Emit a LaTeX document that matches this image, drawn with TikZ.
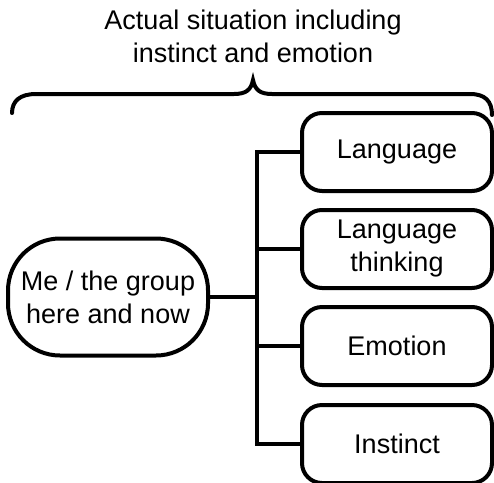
\documentclass[tikz,border=0pt]{standalone}
\usepackage{fontspec}
\setmainfont{Liberation Sans}
\usepackage{tikz}
\usetikzlibrary{positioning}
\tikzset{
    faculty/.style={draw=black, line width=4pt, rounded corners=20pt, minimum width=190pt, minimum height=78pt, align=center, inner sep=0pt},
    selfnode/.style={draw=black, line width=4pt, rounded corners=52pt, minimum width=200pt, minimum height=117pt, align=center, inner sep=0pt},
    wire/.style={draw=black, line width=4pt},
    brace/.style={draw=black, line width=4pt, line cap=round}
}

\begin{document}
\begin{tikzpicture}[x=1pt, y=-1pt, font=\fontsize{27}{33}\selectfont]
    \useasboundingbox (0,0) rectangle (494,482);
    \node[align=center] (title) at (253,36) {Actual situation including\\instinct and emotion};
    \draw[brace] (12,113) .. controls (12,101) and (20,94) .. (36,94) -- (234,94)
        .. controls (246,94) and (251,90) .. (253,80)
        .. controls (255,90) and (260,94) .. (272,94) -- (470,94)
        .. controls (485,94) and (492,101) .. (492,115);
    \node[selfnode] (me) at (108,297) {Me / the group\\here and now};
    \node[faculty] (lang) at (397,152) {Language};
    \node[faculty] (think) at (397,249) {Language\\thinking};
    \node[faculty] (emo) at (397,346) {Emotion};
    \node[faculty] (inst) at (397,444) {Instinct};
    \coordinate (trunk) at (257,297);
    \draw[wire] (me.east) -- (trunk);
    \foreach \b in {lang,think,emo,inst}
        \draw[wire] (\b.west) -| (trunk);
\end{tikzpicture}
\end{document}
